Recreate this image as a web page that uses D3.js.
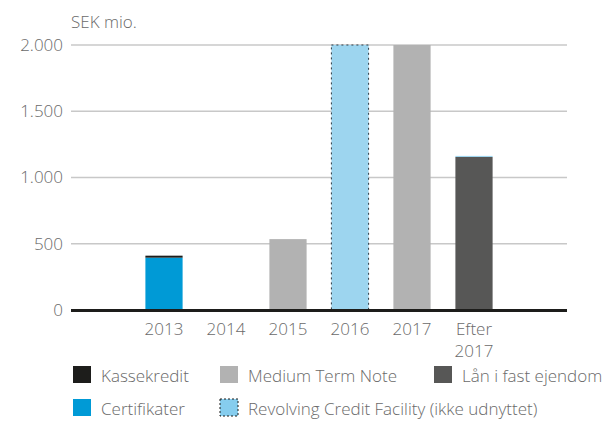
<!DOCTYPE html>
<html lang="da">
<head>
<meta charset="UTF-8">
<title>Forfaldsprofil</title>
<script src="https://d3js.org/d3.v7.min.js"></script>
<style>
  body { margin: 0; background: #fff; }
  svg { display: block; font-family: "Open Sans", Lato, sans-serif; font-weight: 300; }
  .tick-label, .cat-label, .legend-label, .unit { fill: #6a6a6a; font-size: 17px; }
  .grid line { stroke: #c8c8c8; stroke-width: 1.5px; }
</style>
</head>
<body>
<div id="chart"></div>
<script>
// Kategorier (tomme pladser i hver ende)
const categories = ["", "2013", "2014", "2015", "2016", "2017", "Efter 2017", " "];
const seriesNames = ["Lån i fast ejendom", "Medium Term Note", "Certifikater", "Kassekredit", "Revolving Credit Facility (ikke udnyttet)"];
const seriesColors = ["#575756", "#b2b2b2", "#009ad6", "#1d1d1b", "#9dd5ef"];

// værdier pr. serie, SEK mio.
const laan         = [0, 0, 0, 0, 0, 0, 1155, 0];
const mtn          = [0, 0, 0, 535, 0, 2000, 0, 0];
const certifikater = [0, 395, 0, 0, 0, 0, 0, 0];
const kassekredit  = [0, 15, 0, 0, 0, 0, 0, 0];
const rcf          = [0, 0, 0, 0, 2000, 0, 8, 0];
const yTicks = [0, 500, 1000, 1500, 2000];

const width = 605, height = 421;
const margin = { left: 71, right: 38, top: 45, bottom: 111 };

const svg = d3.select("#chart").append("svg")
  .attr("width", width).attr("height", height);

const x = d3.scaleBand()
  .domain(categories)
  .range([margin.left, width - margin.right])
  .paddingInner(0.4).paddingOuter(0.2);

const y = d3.scaleLinear()
  .domain([0, 2000])
  .range([height - margin.bottom, margin.top]);

// gitterlinjer
svg.append("g").attr("class", "grid")
  .selectAll("line")
  .data(yTicks.filter(d => d > 0))
  .enter().append("line")
  .attr("x1", margin.left).attr("x2", width - margin.right)
  .attr("y1", d => y(d)).attr("y2", d => y(d));

// y-akse labels
const fmt = d => d3.format(",")(d).replace(/,/g, ".");
svg.append("g")
  .selectAll("text")
  .data(yTicks)
  .enter().append("text")
  .attr("class", "tick-label")
  .attr("x", margin.left - 8)
  .attr("y", d => y(d))
  .attr("dy", "0.35em")
  .attr("text-anchor", "end")
  .text(fmt);

svg.append("text").attr("class", "unit")
  .attr("x", margin.left).attr("y", 28)
  .text("SEK mio.");

// stakke
const table = categories.map((c, i) => ({
  cat: c,
  "Lån i fast ejendom": laan[i],
  "Medium Term Note": mtn[i],
  "Certifikater": certifikater[i],
  "Kassekredit": kassekredit[i],
  "Revolving Credit Facility (ikke udnyttet)": rcf[i]
}));
const stacked = d3.stack().keys(seriesNames)(table);

const layers = svg.append("g").selectAll("g")
  .data(stacked)
  .enter().append("g")
  .attr("fill", (d, i) => seriesColors[i]);

layers.selectAll("rect")
  .data(d => d.map(v => Object.assign(v, { key: d.key })))
  .enter().append("rect")
  .filter(d => d[1] - d[0] > 0)
  .attr("x", d => x(d.data.cat))
  .attr("width", x.bandwidth())
  .attr("y", d => y(d[1]))
  .attr("height", d => y(d[0]) - y(d[1]))
  .attr("stroke", d => (d.key.startsWith("Revolving") && d[1] - d[0] > 100) ? "#2d3a44" : "none")
  .attr("stroke-width", 1)
  .attr("stroke-dasharray", "2,3");

// nul-linje
svg.append("line")
  .attr("x1", margin.left).attr("x2", width - margin.right)
  .attr("y1", y(0) + 0.5).attr("y2", y(0) + 0.5)
  .attr("stroke", "#1d1d1b").attr("stroke-width", 3);

// kategori labels
const catLabels = svg.append("g").selectAll("text")
  .data(categories.filter(c => c.trim() !== ""))
  .enter().append("text")
  .attr("class", "cat-label")
  .attr("x", d => x(d) + x.bandwidth() / 2)
  .attr("y", y(0) + 25)
  .attr("text-anchor", "middle");
catLabels.selectAll("tspan")
  .data(d => d.split(" "))
  .enter().append("tspan")
  .attr("x", function() { return d3.select(this.parentNode).attr("x"); })
  .attr("dy", (d, i) => i === 0 ? 0 : 22)
  .text(d => d);

// legend
const legendItems = [
  { name: "Kassekredit", color: "#1d1d1b", x: 73, y: 366 },
  { name: "Medium Term Note", color: "#b2b2b2", x: 220, y: 366 },
  { name: "Lån i fast ejendom", color: "#575756", x: 434, y: 366 },
  { name: "Certifikater", color: "#009ad6", x: 73, y: 399 },
  { name: "Revolving Credit Facility (ikke udnyttet)", color: "#86cdee", x: 220, y: 399, dashed: true }
];
const lg = svg.append("g").selectAll("g")
  .data(legendItems)
  .enter().append("g")
  .attr("transform", d => `translate(${d.x},${d.y})`);
lg.append("rect")
  .attr("width", 18).attr("height", 17)
  .attr("fill", d => d.color)
  .attr("stroke", d => d.dashed ? "#1d1d1b" : "none")
  .attr("stroke-dasharray", "2,2");
lg.append("text")
  .attr("class", "legend-label")
  .attr("x", 28).attr("y", 10).attr("dy", "0.35em")
  .text(d => d.name);
</script>
</body>
</html>
